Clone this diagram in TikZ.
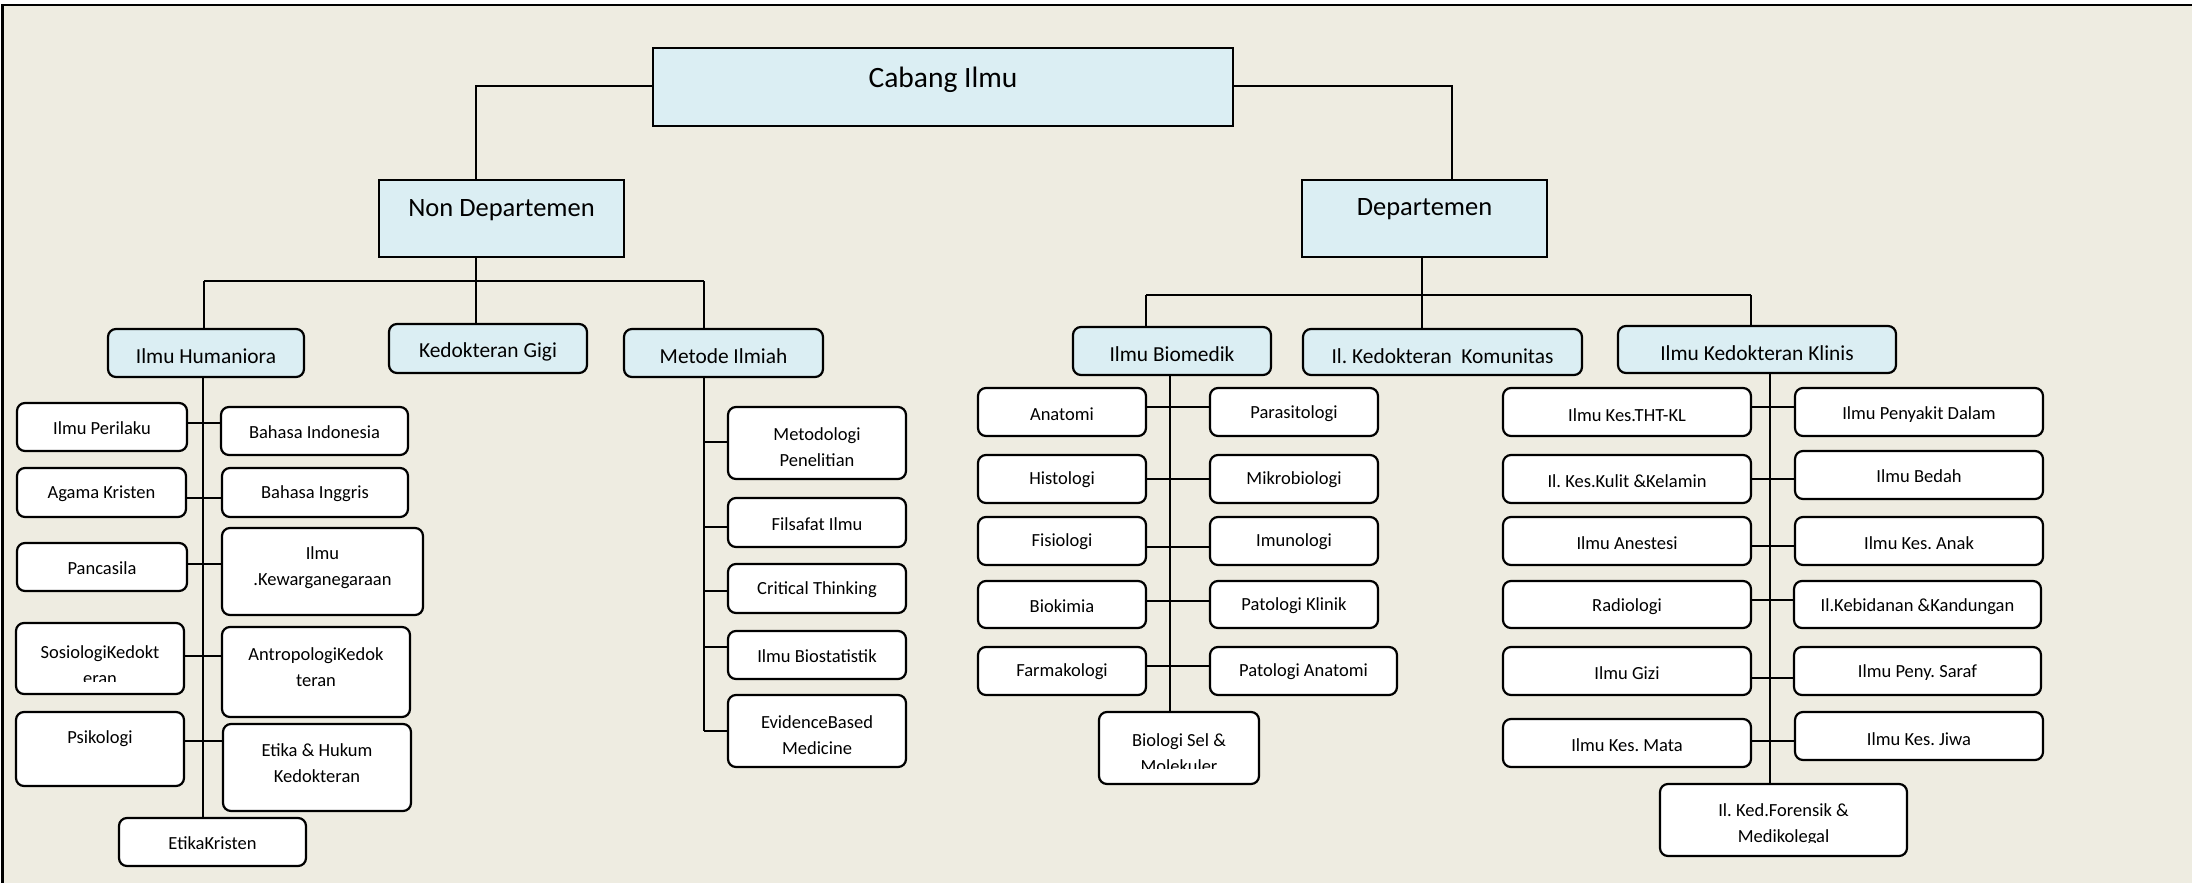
\documentclass[tikz,border=0pt]{standalone}
\usepackage{fontspec}
\setmainfont{Carlito}
\frenchspacing
\definecolor{bgtan}{HTML}{EEECE1}
\definecolor{lblue}{HTML}{DBEEF3}
\tikzset{
  topbox/.style={draw=black, line width=2.2pt, fill=lblue, inner sep=0pt},
  midbox/.style={draw=black, line width=2.2pt, fill=lblue, rounded corners=8pt, inner sep=0pt},
  leafbox/.style={draw=black, line width=2.2pt, fill=white, rounded corners=8pt, inner sep=0pt},
  txt/.style={inner sep=0pt, align=center, text=black},
  toptxt/.style={txt, font=\fontsize{26.5}{32}\selectfont\frenchspacing},
  bigtxt/.style={txt, font=\fontsize{29.5}{34}\selectfont\frenchspacing},
  midtxt/.style={txt, font=\fontsize{21.4}{25}\selectfont\frenchspacing},
  leaftxt/.style={txt, font=\fontsize{18.5}{26}\selectfont\frenchspacing},
  conn/.style={draw=black, line width=2pt},
  hconn/.style={draw=black, line width=2.6pt},
}
% #1 box style, #2 text style, #3 name, #4 x1, #5 y1, #6 x2, #7 y2, #8 text y, #9 text
\newcommand\bx[9]{%
  \node[#1, minimum width={(#6-#4)*1pt}, minimum height={(#7-#5)*1pt}] (#3) at ({(#4+#6)/2},{(#5+#7)/2}) {};
  \node[#2] (#3t) at ({(#4+#6)/2},#8) {#9};
}
% clipped two-line text: #1 name, #2 x1, #3 y1, #4 x2, #5 y2 (clip), #6 text y, #7 text
\newcommand\cliptxt[7]{%
  \begin{scope}
    \clip (#2,#3) rectangle (#4,#5);
    \node[leaftxt] (#1) at ({(#2+#4)/2},#6) {#7};
  \end{scope}
}
\begin{document}
\frenchspacing
\begin{tikzpicture}[x=1pt,y=-1pt]
\useasboundingbox (0,0) rectangle (2192,883);
\fill[white] (0,0) rectangle (2192,883);
\fill[bgtan] (2,5) rectangle (2200,890);
\draw[line width=2.4pt] (2.5,890) -- (2.5,5) -- (2200,5);

% top level
\bx{topbox}{bigtxt}{cabang}{653}{48}{1233}{126}{80}{Cabang Ilmu}
\bx{topbox}{toptxt}{nondep}{379}{180}{624}{257}{210}{Non Departemen}
\bx{topbox}{toptxt}{dep}{1302}{180}{1547}{257}{209}{Departemen}

% second level
\bx{midbox}{midtxt}{hum}{108}{329}{304}{377}{356}{Ilmu Humaniora}
\bx{midbox}{midtxt}{gigi}{389}{324}{587}{373}{352}{Kedokteran Gigi}
\bx{midbox}{midtxt}{metode}{624}{329}{823}{377}{356}{Metode Ilmiah}
\bx{midbox}{midtxt}{bio}{1073}{327}{1271}{375}{354}{Ilmu Biomedik}
\bx{midbox}{midtxt}{kom}{1303}{329}{1582}{375}{356}{Il. Kedokteran\ \ Komunitas}
\bx{midbox}{midtxt}{klin}{1618}{326}{1896}{373}{353}{Ilmu Kedokteran Klinis}

% coordinates for connectors
\coordinate (c1) at (476,86);
\coordinate (c2) at (1452,86);
\coordinate (nb) at (476,281);
\coordinate (nl) at (204,281);
\coordinate (nr) at (704,281);
\coordinate (db) at (1422,295);
\coordinate (dl) at (1146,295);
\coordinate (dr) at (1751,295);

\draw[conn] (cabang.west |- c1) -- (c1) -- (nondep.north -| c1);
\draw[conn] (cabang.east |- c2) -- (c2) -- (dep.north -| c2);
\draw[conn] (nondep.south -| nb) -- (nb);
\draw[hconn] (nl) -- (nr);
\draw[conn] (nl) -- (hum.north -| nl);
\draw[conn] (nb) -- (gigi.north -| nb);
\draw[conn] (nr) -- (metode.north -| nr);
\draw[conn] (dep.south -| db) -- (db);
\draw[hconn] (dl) -- (dr);
\draw[conn] (dl) -- (bio.north -| dl);
\draw[conn] (db) -- (kom.north -| db);
\draw[conn] (dr) -- (klin.north -| dr);

% ---------- Humaniora ----------
\coordinate (hs) at (203,0);
\bx{leafbox}{leaftxt}{perilaku}{17}{403}{187}{451}{428}{Ilmu Perilaku}
\bx{leafbox}{leaftxt}{bind}{221}{407}{408}{455}{432}{Bahasa Indonesia}
\bx{leafbox}{leaftxt}{agama}{17}{468}{186}{517}{494}{Agama Kristen}
\bx{leafbox}{leaftxt}{bing}{222}{468}{408}{517}{494}{Bahasa Inggris}
\bx{leafbox}{leaftxt}{panca}{17}{543}{187}{591}{568}{Pancasila}
\bx{leafbox}{leaftxt}{kewar}{222}{528}{423}{615}{568}{Ilmu\\.Kewarganegaraan}
\bx{leafbox}{leaftxt}{sosio}{16}{623}{184}{694}{0}{}
\cliptxt{sosiot2}{16}{623}{184}{681}{665}{SosiologiKedokt\\eran}
\bx{leafbox}{leaftxt}{antro}{222}{627}{410}{717}{667}{AntropologiKedok\\teran}
\bx{leafbox}{leaftxt}{psiko}{16}{712}{184}{786}{739}{Psikologi}
\bx{leafbox}{leaftxt}{etika}{223}{724}{411}{811}{763}{Etika \& Hukum\\Kedokteran}
\bx{leafbox}{leaftxt}{etkr}{119}{818}{306}{866}{843}{EtikaKristen}

\draw[conn] (hum.south -| hs) -- (etkr.north -| hs);
\draw[hconn] (perilaku.east |- 0,423) -- (bind.west |- 0,423);
\draw[hconn] (agama.east |- 0,498) -- (bing.west |- 0,498);
\draw[hconn] (panca.east |- 0,564) -- (kewar.west |- 0,564);
\draw[hconn] (sosio.east |- 0,656) -- (antro.west |- 0,656);
\draw[hconn] (psiko.east |- 0,741) -- (etika.west |- 0,741);

% ---------- Metode Ilmiah ----------
\coordinate (ms) at (704,731);
\bx{leafbox}{leaftxt}{metpen}{728}{407}{906}{479}{447}{Metodologi\\Penelitian}
\bx{leafbox}{leaftxt}{filsafat}{728}{498}{906}{547}{524}{Filsafat Ilmu}
\bx{leafbox}{leaftxt}{critical}{728}{564}{906}{613}{590}{Critical Thinking}
\bx{leafbox}{leaftxt}{biostat}{728}{631}{906}{679}{656}{Ilmu Biostatistik}
\bx{leafbox}{leaftxt}{ebm}{728}{695}{906}{767}{735}{EvidenceBased\\Medicine}
\draw[conn] (metode.south -| ms) -- (ms);
\draw[hconn] (ms |- 0,442) -- (metpen.west |- 0,442);
\draw[hconn] (ms |- 0,527) -- (filsafat.west |- 0,527);
\draw[hconn] (ms |- 0,591) -- (critical.west |- 0,591);
\draw[hconn] (ms |- 0,647) -- (biostat.west |- 0,647);
\draw[hconn] (ms) -- (ebm.west |- ms);

% ---------- Biomedik ----------
\coordinate (bs) at (1170,0);
\bx{leafbox}{leaftxt}{anat}{978}{388}{1146}{436}{414}{Anatomi}
\bx{leafbox}{leaftxt}{paras}{1210}{388}{1378}{436}{414}{Parasitologi}
\bx{leafbox}{leaftxt}{histo}{978}{455}{1146}{503}{480}{Histologi}
\bx{leafbox}{leaftxt}{mikro}{1210}{455}{1378}{503}{480}{Mikrobiologi}
\bx{leafbox}{leaftxt}{fisio}{978}{517}{1146}{565}{542}{Fisiologi}
\bx{leafbox}{leaftxt}{imuno}{1210}{517}{1378}{565}{542}{Imunologi}
\bx{leafbox}{leaftxt}{biokim}{978}{581}{1146}{628}{606}{Biokimia}
\bx{leafbox}{leaftxt}{patkl}{1210}{581}{1378}{628}{606}{Patologi Klinik}
\bx{leafbox}{leaftxt}{farma}{978}{647}{1146}{695}{672}{Farmakologi}
\bx{leafbox}{leaftxt}{patan}{1210}{647}{1397}{695}{672}{Patologi Anatomi}
\bx{leafbox}{leaftxt}{biosel}{1099}{712}{1259}{784}{0}{}
\cliptxt{biosel2}{1099}{712}{1259}{768}{753}{Biologi Sel \&\\Molekuler}
\draw[conn] (bio.south -| bs) -- (biosel.north -| bs);
\draw[hconn] (anat.east |- 0,407) -- (paras.west |- 0,407);
\draw[hconn] (histo.east |- 0,479) -- (mikro.west |- 0,479);
\draw[hconn] (fisio.east |- 0,547) -- (imuno.west |- 0,547);
\draw[hconn] (biokim.east |- 0,601) -- (patkl.west |- 0,601);
\draw[hconn] (farma.east |- 0,666) -- (patan.west |- 0,666);

% ---------- Klinis ----------
\coordinate (ks) at (1770,0);
\bx{leafbox}{leaftxt}{tht}{1503}{388}{1751}{436}{415}{Ilmu Kes.THT-KL}
\bx{leafbox}{leaftxt}{pdalam}{1795}{388}{2043}{436}{415}{Ilmu Penyakit Dalam}
\bx{leafbox}{leaftxt}{kulit}{1503}{455}{1751}{503}{481}{Il. Kes.Kulit \&Kelamin}
\bx{leafbox}{leaftxt}{bedah}{1795}{451}{2043}{499}{476}{Ilmu Bedah}
\bx{leafbox}{leaftxt}{anest}{1503}{517}{1751}{565}{543}{Ilmu Anestesi}
\bx{leafbox}{leaftxt}{anak}{1795}{517}{2043}{565}{543}{Ilmu Kes. Anak}
\bx{leafbox}{leaftxt}{radio}{1503}{581}{1751}{628}{607}{Radiologi}
\bx{leafbox}{leaftxt}{kebid}{1794}{581}{2041}{628}{607}{Il.Kebidanan \&Kandungan}
\bx{leafbox}{leaftxt}{gizi}{1503}{647}{1751}{695}{673}{Ilmu Gizi}
\bx{leafbox}{leaftxt}{saraf}{1794}{647}{2041}{695}{673}{Ilmu Peny. Saraf}
\bx{leafbox}{leaftxt}{mata}{1503}{719}{1751}{767}{745}{Ilmu Kes. Mata}
\bx{leafbox}{leaftxt}{jiwa}{1795}{712}{2043}{760}{739}{Ilmu Kes. Jiwa}
\bx{leafbox}{leaftxt}{foren}{1660}{784}{1907}{856}{0}{}
\cliptxt{foren2}{1660}{784}{1907}{842}{825}{Il. Ked.Forensik \&\\Medikolegal}
\draw[conn] (klin.south -| ks) -- (foren.north -| ks);
\draw[hconn] (tht.east |- 0,407) -- (pdalam.west |- 0,407);
\draw[hconn] (kulit.east |- 0,479) -- (bedah.west |- 0,479);
\draw[hconn] (anest.east |- 0,546) -- (anak.west |- 0,546);
\draw[hconn] (radio.east |- 0,600) -- (kebid.west |- 0,600);
\draw[hconn] (gizi.east |- 0,678) -- (saraf.west |- 0,678);
\draw[hconn] (mata.east |- 0,741) -- (jiwa.west |- 0,741);
\end{tikzpicture}
\end{document}
